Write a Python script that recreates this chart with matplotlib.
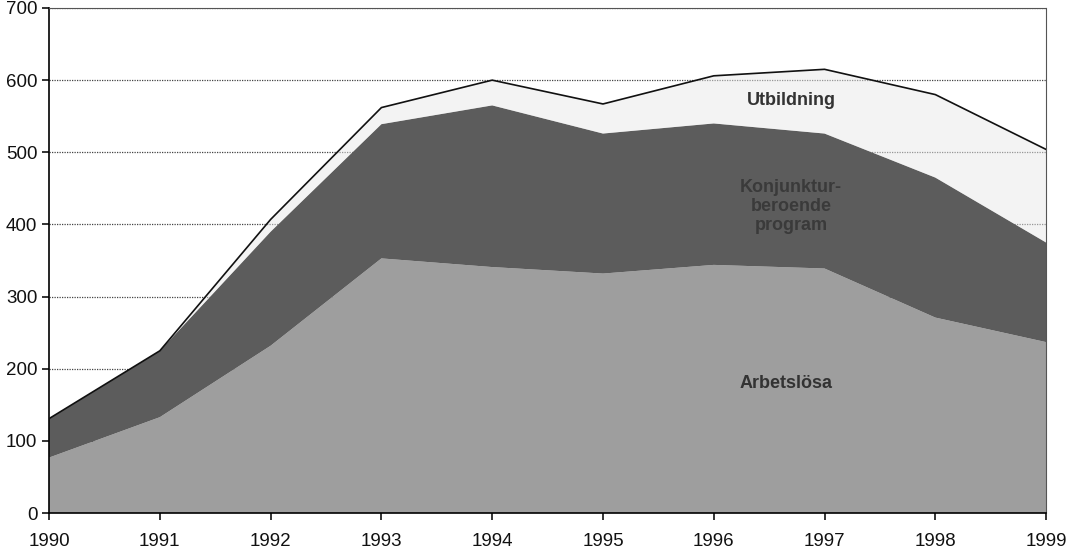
import matplotlib
matplotlib.use("Agg")
import matplotlib.pyplot as plt
import numpy as np

years = [1990, 1991, 1992, 1993, 1994, 1995, 1996, 1997, 1998, 1999]
arbetslosa = [77, 133, 232, 353, 341, 332, 344, 339, 271, 237]
konjunktur = [54, 92, 158, 186, 224, 194, 196, 187, 194, 138]
utbildning = [0, 0, 17, 23, 35, 41, 66, 89, 115, 129]
labels = ["Arbetslösa", "Konjunktur-\nberoende\nprogram", "Utbildning"]
colors = ["#9e9e9e", "#5c5c5c", "#e8e8e8"]

plt.rcParams['font.family'] = ['Liberation Sans', 'DejaVu Sans']

fig = plt.figure(figsize=(10.67, 5.5), dpi=100)
ax = fig.add_axes([0.046, 0.067, 0.9344, 0.9185])

polys = ax.stackplot(years, arbetslosa, konjunktur, utbildning, colors=colors, linewidth=0, zorder=2)
polys[2].set_alpha(0.5)
total = np.array(arbetslosa) + np.array(konjunktur) + np.array(utbildning)
ax.plot(years, total, color="#111111", linewidth=1.2, zorder=3)

ax.set_xlim(1990, 1999)
ax.set_ylim(0, 700)
ax.set_yticks(range(0, 701, 100))
ax.set_xticks(years)
ax.yaxis.grid(True, linestyle=(0, (1, 1)), color="#444444", linewidth=0.9, zorder=1)
ax.set_axisbelow(True)
for s in ["top", "right"]:
    ax.spines[s].set_linestyle((0, (1, 1)))
    ax.spines[s].set_color("#555555")
ax.spines["left"].set_linewidth(1.2)
ax.spines["bottom"].set_linewidth(1.2)
ax.tick_params(axis="both", labelsize=13.5, length=5, direction="out", width=1.2, colors="#111111")
ax.tick_params(axis="x", pad=9)

ax.text(1996.7, 572, "Utbildning", ha="center", va="center", fontsize=13, fontweight="bold", color="#333333", zorder=4)
ax.text(1996.7, 425, labels[1], ha="center", va="center", fontsize=13, fontweight="bold", color="#3a3a3a", linespacing=1.15, zorder=4)
ax.text(1996.65, 180, labels[0], ha="center", va="center", fontsize=13, fontweight="bold", color="#333333", zorder=4)

fig.savefig("out.png", dpi=100)
